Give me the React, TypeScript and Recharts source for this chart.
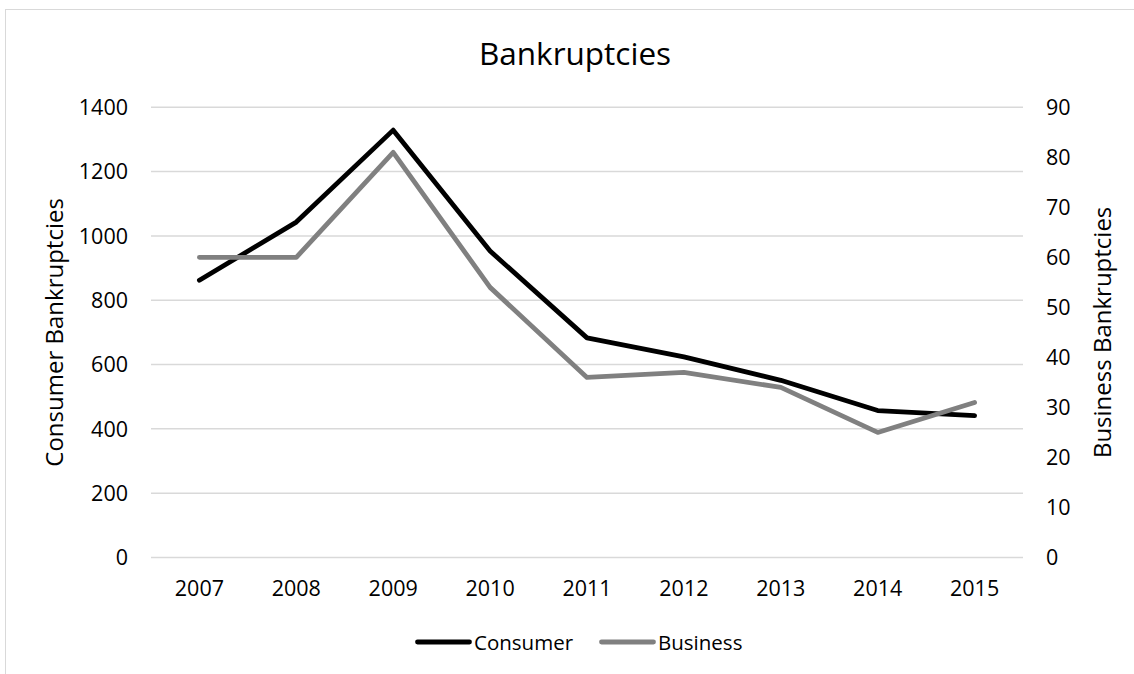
import React from 'react';
import { LineChart, Line, XAxis, YAxis, CartesianGrid, Legend } from 'recharts';

const years = ['2007', '2008', '2009', '2010', '2011', '2012', '2013', '2014', '2015'];
const consumer = [862, 1043, 1329, 953, 683, 624, 551, 457, 441];
const business = [60, 60, 81, 54, 36, 37, 34, 25, 31];
const leftTicks = [0, 200, 400, 600, 800, 1000, 1200, 1400];
const rightTicks = [0, 10, 20, 30, 40, 50, 60, 70, 80, 90];
const seriesOrder = ['Consumer', 'Business'];

const data = years.map((y, i) => ({ year: y, Consumer: consumer[i], Business: business[i] }));

const FONT = "'Open Sans', sans-serif";
const TXT = '#000';

const renderLegend = (props: any) => {
  const payload = [...(props.payload || [])].sort(
    (a: any, b: any) => seriesOrder.indexOf(a.value) - seriesOrder.indexOf(b.value)
  );
  return (
    <div style={{ display: 'flex', alignItems: 'center', fontFamily: FONT, fontSize: 20.5, color: TXT, whiteSpace: 'nowrap' }}>
      {payload.map((e: any, i: number) => (
        <div key={e.value} style={{ display: 'flex', alignItems: 'center', marginLeft: i ? 26 : 0 }}>
          <svg width={57} height={8} style={{ display: 'block' }}>
            <line x1={2.5} y1={4} x2={54.5} y2={4} stroke={e.color} strokeWidth={4.8} strokeLinecap="round" />
          </svg>
          <span style={{ marginLeft: 2 }}>{e.value}</span>
        </div>
      ))}
    </div>
  );
};

const axisTitle = (text: string, dx: number) => (props: any) => {
  const vb = props.viewBox || {};
  const cx = vb.x + dx;
  const cy = vb.y + vb.height / 2;
  return (
    <text
      x={cx}
      y={cy}
      transform={`rotate(-90 ${cx} ${cy})`}
      textAnchor="middle"
      fontFamily={FONT}
      fontSize={24}
      fill={TXT}
    >
      {text}
    </text>
  );
};

export default function App() {
  return (
    <div style={{ position: 'fixed', left: 0, top: 0, width: 1134, height: 674, overflow: 'hidden', background: '#fff' }}>
      <div
        style={{
          position: 'absolute',
          left: 5,
          top: 9,
          width: 1200,
          height: 800,
          border: '1px solid #d9d9d9',
          boxSizing: 'border-box',
        }}
      />
      <div
        style={{
          position: 'absolute',
          left: 375,
          top: 37,
          width: 400,
          textAlign: 'center',
          fontFamily: FONT,
          fontSize: 31.5,
          lineHeight: 1,
          color: TXT,
        }}
      >
        Bankruptcies
      </div>
      <div style={{ position: 'absolute', left: 0, top: 0 }}>
        <LineChart
          width={1134}
          height={674}
          data={data}
          margin={{ top: 107.3, right: 11, bottom: 76.5, left: 51 }}
        >
          <CartesianGrid yAxisId="left" vertical={false} stroke="#d9d9d9" strokeWidth={1.5} />
          <XAxis
            dataKey="year"
            axisLine={false}
            tickLine={false}
            tickSize={0}
            tickMargin={23.5}
            height={40}
            padding={{ left: 48.4, right: 48.4 }}
            tick={{ fontFamily: FONT, fontSize: 21.5, fill: TXT }}
          />
          <YAxis
            yAxisId="left"
            orientation="left"
            width={100}
            domain={[0, 1400]}
            ticks={leftTicks}
            axisLine={false}
            tickLine={false}
            tickSize={0}
            tickMargin={23}
            tick={{ fontFamily: FONT, fontSize: 21.5, fill: TXT }}
            label={axisTitle('Consumer Bankruptcies', 12)}
          />
          <YAxis
            yAxisId="right"
            orientation="right"
            width={100}
            domain={[0, 90]}
            ticks={rightTicks}
            axisLine={false}
            tickLine={false}
            tickSize={0}
            tickMargin={23}
            tick={{ fontFamily: FONT, fontSize: 21.5, fill: TXT }}
            label={axisTitle('Business Bankruptcies', 88.5)}
          />
          <Legend
            layout="horizontal"
            verticalAlign="middle"
            align="center"
            content={renderLegend}
            wrapperStyle={{ position: 'absolute', left: 415, top: 628, width: 'auto', height: 'auto' }}
          />
          <Line
            yAxisId="left"
            type="linear"
            dataKey="Consumer"
            stroke="#000000"
            strokeWidth={4.8}
            dot={false}
            activeDot={false}
            strokeLinejoin="round"
            strokeLinecap="round"
            isAnimationActive={false}
          />
          <Line
            yAxisId="right"
            type="linear"
            dataKey="Business"
            stroke="#808080"
            strokeWidth={4.8}
            dot={false}
            activeDot={false}
            strokeLinejoin="round"
            strokeLinecap="round"
            isAnimationActive={false}
          />
        </LineChart>
      </div>
    </div>
  );
}
